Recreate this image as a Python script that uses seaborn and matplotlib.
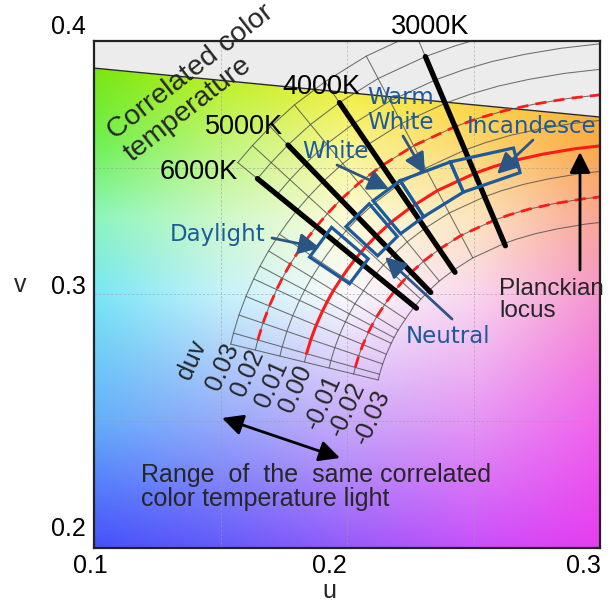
import numpy as np
import pandas as pd
import matplotlib
matplotlib.use("Agg")
import matplotlib.pyplot as plt
from matplotlib.patches import Polygon
from matplotlib.transforms import ScaledTranslation
import seaborn as sns

# ---------------- data ----------------
# Planckian locus in CIE 1960 (u, v)
locus_T = [25000, 20000, 15000, 12000, 10000, 9000, 8000, 7000, 6500, 6000, 5500,
           5000, 4500, 4000, 3500, 3000, 2800, 2600, 2400, 2200, 2000, 1900, 1800]
locus_u = [0.1832, 0.1840, 0.1857, 0.1878, 0.1903, 0.1921, 0.1946, 0.1982, 0.2005,
           0.2034, 0.2070, 0.2115, 0.2174, 0.2252, 0.2357, 0.2505, 0.2581, 0.2671,
           0.2776, 0.2901, 0.3050, 0.3136, 0.3231]
locus_v = [0.2733, 0.2766, 0.2822, 0.2878, 0.2934, 0.2970, 0.3015, 0.3070, 0.3103,
           0.3141, 0.3183, 0.3230, 0.3284, 0.3343, 0.3409, 0.3477, 0.3504, 0.3530,
           0.3553, 0.3574, 0.3591, 0.3597, 0.3601]

duv_levels = [0.03, 0.02, 0.01, 0.00, -0.01, -0.02, -0.03]
duv_labels = ["0.03", "0.02", "0.01", "0.00", "-0.01", "-0.02", "-0.03"]
upper_duv = [0.04, 0.05, 0.06]
grid_T = [25000, 20000, 15000, 12000, 10000, 9000, 8000, 7000, 6000, 5500, 5000,
          4500, 4000, 3500, 3000]

cct_T = [6000, 5000, 4000, 3000]
cct_labels = ["6000K", "5000K", "4000K", "3000K"]
cct_duv_lo, cct_duv_hi = -0.031, 0.05

# spectral locus edge (top of the coloured area)
edge_u = [0.1, 0.3]
edge_v = [0.3892, 0.3699]

# light-source colour classes (quadrilaterals in u, v)
class_names = ["Daylight", "Neutral", "White", "Warm White", "Incandescent"]
class_u = [[0.1852, 0.1939, 0.2084, 0.2010],
           [0.1996, 0.2088, 0.2199, 0.2121],
           [0.2103, 0.2210, 0.2303, 0.2212],
           [0.2210, 0.2408, 0.2460, 0.2303],
           [0.2408, 0.2658, 0.2684, 0.2460]]
class_v = [[0.3147, 0.3264, 0.3140, 0.3042],
           [0.3267, 0.3357, 0.3228, 0.3152],
           [0.3369, 0.3448, 0.3306, 0.3239],
           [0.3448, 0.3522, 0.3403, 0.3306],
           [0.3522, 0.3577, 0.3480, 0.3403]]

# background colour anchors (rows: u, columns: v)
bg_u = [0.10, 0.15, 0.20, 0.25, 0.30]
bg_v = [0.20, 0.25, 0.30, 0.33, 0.36, 0.39]
bg_rgb = [
    [(70, 80, 250), (100, 175, 250), (120, 230, 245), (140, 245, 190), (110, 240, 80), (120, 230, 15)],
    [(100, 90, 250), (150, 170, 250), (195, 242, 250), (205, 248, 200), (190, 245, 120), (190, 240, 20)],
    [(150, 90, 250), (200, 170, 250), (250, 250, 252), (252, 252, 215), (248, 245, 140), (240, 235, 30)],
    [(200, 80, 250), (230, 150, 245), (250, 215, 238), (252, 230, 190), (252, 215, 110), (250, 215, 30)],
    [(230, 60, 240), (240, 100, 235), (245, 150, 205), (250, 165, 150), (250, 170, 70), (250, 180, 40)],
]

x_ticks = [0.1, 0.2, 0.3]
y_ticks = [0.2, 0.3, 0.4]

BLUE = "#1d5a9c"
ABLUE = "#2b5683"
RED = "#ff1a1a"
GRID = "#4d4d4d"

# ---------------- figure ----------------
sns.set_theme(style="white")
plt.rcParams["font.family"] = ["Liberation Sans", "DejaVu Sans"]

W, H = 610, 605
fig = plt.figure(figsize=(W / 100, H / 100), dpi=100)
L0, R0, T0, B0 = 94, 600, 40.7, 548
ax = fig.add_axes([L0 / W, 1 - B0 / H, (R0 - L0) / W, (B0 - T0) / H])
ax.set_xlim(0.1, 0.3)
ax.set_ylim(0.2, 0.4)


def P(x, y):
    """pixel position of the reference layout -> (u, v)"""
    return (0.1 + (x - L0) / (R0 - L0) * 0.2, 0.4 - (y - T0) / (B0 - T0) * 0.2)


# background: smooth blend between colour anchors
ug = np.linspace(0.1, 0.3, 400)
vg = np.linspace(0.2, 0.4, 400)
A = np.array(bg_rgb, dtype=float) / 255.0          # (nu, nv, 3)
tmp = np.array([[np.interp(vg, bg_v, A[i, :, c]) for c in range(3)] for i in range(len(bg_u))])
img = np.array([[np.interp(ug, bg_u, tmp[:, c, j]) for c in range(3)] for j in range(len(vg))])
img = np.transpose(img, (0, 2, 1))                 # (nv, nu, 3)
ax.imshow(np.clip(img, 0, 1), extent=[0.1, 0.3, 0.2, 0.4], origin="lower", aspect="auto",
          interpolation="bilinear", zorder=0.1)

ax.fill_between(edge_u, edge_v, 0.4, color="#ececec", zorder=0.2, lw=0)
ax.plot(edge_u, edge_v, color="#2a2a2a", lw=1.0, zorder=0.6)

# grid
ax.set_xticks(x_ticks)
ax.set_yticks(y_ticks)
ax.set_xticks([0.15, 0.25], minor=True)
ax.set_yticks([0.25, 0.35], minor=True)
ax.grid(True, which="both", color="#9a9a9a", lw=0.6, ls=(0, (3, 2)), alpha=0.6)
ax.set_axisbelow(True)
for s in ax.spines.values():
    s.set_color("#222222")
    s.set_linewidth(1.6)
    s.set_zorder(10)

# geometry of the locus
U = np.array(locus_u); V = np.array(locus_v); T = np.array(locus_T)
du_, dv_ = np.gradient(U), np.gradient(V)
nrm = np.hypot(du_, dv_)
nu, nv = -dv_ / nrm, du_ / nrm

# duv arcs + isotemperature grid (long-form)
rows = []
for d in duv_levels:
    for t, u0, v0, a, b in zip(T, U, V, nu, nv):
        rows.append(dict(line=f"arc{d}", u=u0 + d * a, v=v0 + d * b))
for d in upper_duv:
    for t, u0, v0, a, b in zip(T, U, V, nu, nv):
        if t <= 6000:
            rows.append(dict(line=f"arc{d}", u=u0 + d * a, v=v0 + d * b))
for t0 in grid_T:
    i = locus_T.index(t0)
    hi = 0.06 if t0 <= 6000 else 0.03
    for d in (-0.03, hi):
        rows.append(dict(line=f"iso{t0}", u=U[i] + d * nu[i], v=V[i] + d * nv[i]))
grid_df = pd.DataFrame(rows)
sns.lineplot(data=grid_df, x="u", y="v", units="line", estimator=None, sort=False,
             color=GRID, lw=0.75, alpha=0.8, ax=ax, legend=False, zorder=2)

# Planckian locus and +-0.02 lines
m = T <= 20000
loc_df = pd.DataFrame(dict(u=U[m], v=V[m]))
sns.lineplot(data=loc_df, x="u", y="v", sort=False, estimator=None, color=RED,
             lw=2.2, ax=ax, zorder=3)
for d in (0.02, -0.02):
    dd = pd.DataFrame(dict(u=U[m] + d * nu[m], v=V[m] + d * nv[m]))
    sns.lineplot(data=dd, x="u", y="v", sort=False, estimator=None, color=RED,
                 lw=2.0, ax=ax, zorder=3, linestyle=(0, (4, 2.6)))

# thick correlated colour temperature lines
rows = []
for t0 in cct_T:
    i = locus_T.index(t0)
    for d in (cct_duv_lo, cct_duv_hi):
        rows.append(dict(T=t0, u=U[i] + d * nu[i], v=V[i] + d * nv[i]))
cct_df = pd.DataFrame(rows)
sns.lineplot(data=cct_df, x="u", y="v", units="T", estimator=None, sort=False,
             color="black", lw=3.8, ax=ax, legend=False, zorder=4)

# class boxes
for cu, cv in zip(class_u, class_v):
    ax.add_patch(Polygon(np.column_stack([cu, cv]), closed=True, fill=False,
                         ec=BLUE, lw=2.3, zorder=5, joinstyle="miter"))

# ---------------- texts ----------------
lab_pos = {"6000K": (199, 172), "5000K": (244, 127), "4000K": (321, 87), "3000K": (430, 27)}
for lab in cct_labels:
    ax.text(*P(*lab_pos[lab]), lab, fontsize=19.5, ha="center", va="center",
            color="black", zorder=7)

ax.text(*P(199, 83), "Correlated color\ntemperature", fontsize=20.5, rotation=38,
        ha="center", va="center", multialignment="left", rotation_mode="anchor",
        linespacing=1.12, zorder=7)

# duv labels
ax.text(*P(192, 360), "duv", fontsize=18, rotation=66, ha="center", va="center", zorder=7)
duv_pos = [(223, 367), (248, 373), (272, 384), (296, 389), (323, 402), (347, 409), (372, 417)]
for lab, (x, y) in zip(duv_labels, duv_pos):
    ax.text(*P(x, y), lab, fontsize=18, rotation=66, ha="center", va="center", zorder=7)

# blue class labels and arrows
bfs = 16.5
bfont = ["DejaVu Sans"]
ax.text(*P(218, 235), "Daylight", color=BLUE, fontsize=bfs, family=bfont, ha="center", va="center", zorder=7)
ax.text(*P(448, 337), "Neutral", color=BLUE, fontsize=bfs, family=bfont, ha="center", va="center", zorder=7)
ax.text(*P(335, 152), "White", color=BLUE, fontsize=bfs, family=bfont, ha="center", va="center", zorder=7)
ax.text(*P(367, 110), "Warm\nWhite", color=BLUE, fontsize=bfs, family=bfont, ha="left",
        va="center", linespacing=1.08, zorder=7)
ax.text(*P(467, 127), "Incandesce", color=BLUE, fontsize=bfs, family=bfont, ha="left",
        va="center", zorder=7)

arrows = [((272, 238), (320, 248)), ((337, 165), (389, 189)), ((403, 136), (425, 174)),
          ((533, 140), (497, 174)), ((452, 319), (385, 257))]
for (x0, y0), (x1, y1) in arrows:
    ax.annotate("", xy=P(x1, y1), xytext=P(x0, y0),
                arrowprops=dict(arrowstyle="-|>,head_length=0.9,head_width=0.45",
                                color=ABLUE, lw=2.0, mutation_scale=14, shrinkA=0, shrinkB=0),
                zorder=8)

# Planckian locus arrow and label
ax.annotate("", xy=P(580, 152), xytext=P(580, 270),
            arrowprops=dict(arrowstyle="-|>,head_length=0.9,head_width=0.45", color="black",
                            lw=2.0, mutation_scale=14, shrinkA=0, shrinkB=0), zorder=8)
ax.text(*P(499, 300), "Planckian\nlocus", fontsize=17.5, ha="left", va="center",
        linespacing=1.03, zorder=7)

# range arrow and caption
ax.annotate("", xy=P(222, 418), xytext=P(340, 458),
            arrowprops=dict(arrowstyle="<|-|>,head_length=0.9,head_width=0.45", color="black",
                            lw=2.0, mutation_scale=14, shrinkA=0, shrinkB=0), zorder=8)
ax.text(*P(141, 487), "Range  of  the  same correlated\ncolor temperature light",
        fontsize=18, ha="left", va="center", linespacing=1.05, zorder=7)

# ---------------- axes labels / ticks ----------------
ax.tick_params(axis="both", which="both", length=0, labelsize=18, labelcolor="black")
ax.tick_params(axis="y", pad=6)
ax.tick_params(axis="x", pad=4)
ax.set_xticklabels(["0.1", "0.2", "0.3"])
ax.set_yticklabels(["0.2", "0.3", "0.4"])
for lab, dx in zip(ax.get_xticklabels(), [-4, -18, -17]):
    lab.set_transform(lab.get_transform() + ScaledTranslation(dx / 100, 0, fig.dpi_scale_trans))
for lab, dy in zip(ax.get_yticklabels(), [21, 10, 16.7]):
    lab.set_transform(lab.get_transform() + ScaledTranslation(0, dy / 100, fig.dpi_scale_trans))

ax.set_xlabel("u", fontsize=18)
ax.xaxis.set_label_coords((329 - L0) / (R0 - L0), -(579 - B0) / (B0 - T0))
ax.set_ylabel("v", fontsize=18, rotation=0, ha="center", va="center")
ax.yaxis.set_label_coords((20 - L0) / (R0 - L0), (B0 - 284.5) / (B0 - T0))

fig.savefig("out.png", dpi=100)
